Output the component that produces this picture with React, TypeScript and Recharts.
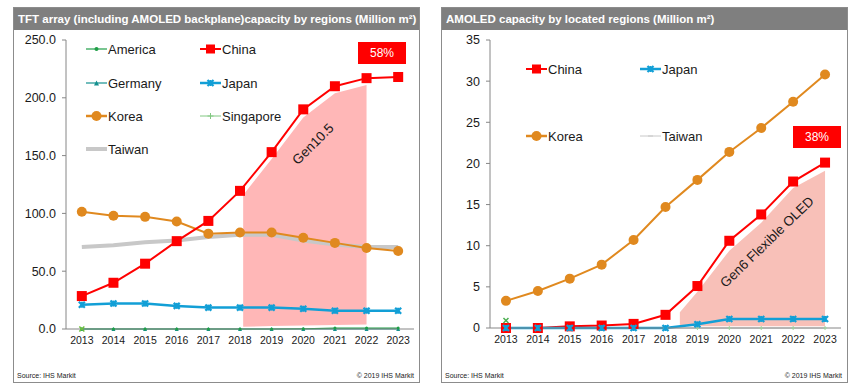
import React from 'react'
import { ComposedChart, Line, Area, XAxis, YAxis } from 'recharts'

const years = [2013, 2014, 2015, 2016, 2017, 2018, 2019, 2020, 2021, 2022, 2023]
const boundaryTicks = [2012.5, 2013.5, 2014.5, 2015.5, 2016.5, 2017.5, 2018.5, 2019.5, 2020.5, 2021.5, 2022.5, 2023.5]

// TFT array (incl. AMOLED backplane) capacity, Million m²
const tftAmerica = [0, 0, 0, 0, 0, 0, 0, 0.2, 0.8, 0.8, 0.8]
const tftChina = [28.5, 40, 56.5, 76, 93.5, 119.5, 153, 190, 210, 217, 218]
const tftGermany = [0, 0, 0, 0, 0, 0, 0, 0, 0, 0, 0]
const tftJapan = [21, 22, 22, 20, 18.5, 18.5, 18.5, 17.5, 15.8, 15.8, 15.8]
const tftKorea = [101.5, 98, 97, 93, 82.5, 83.5, 83.5, 79, 74.5, 70, 67.5]
const tftSingapore = [0, null, null, null, null, null, null, null, null, null, null]
const tftTaiwan = [71, 72.5, 75, 76.5, 79.5, 81.5, 81.5, 76.5, 73, 71, 71]
const tftTicks = [0, 50, 100, 150, 200, 250]

// Gen10.5 shaded band
const gen105Years = [2018.1, 2019, 2020, 2021, 2022]
const gen105Low = [2, 2.5, 3, 3.5, 4]
const gen105High = [116, 147, 183, 204, 211]

// AMOLED capacity by located regions, Million m²
const oledChina = [0, 0, 0.2, 0.3, 0.5, 1.6, 5.1, 10.6, 13.8, 17.8, 20.1]
const oledJapan = [0, 0, 0, 0, 0, 0, 0.45, 1.1, 1.1, 1.1, 1.1]
const oledKorea = [3.3, 4.5, 6.0, 7.7, 10.7, 14.7, 18.0, 21.4, 24.3, 27.5, 30.8]
const oledTaiwan = [0, 0, 0, 0, 0, 0, 0, 0, 0, 0, 0]
const oledOther = [0.9, null, null, null, null, null, null, null, null, null, null]
const oledTicks = [0, 5, 10, 15, 20, 25, 30, 35]

// Gen6 flexible OLED shaded band
const gen6Years = [2018.45, 2019, 2020, 2021, 2022, 2023]
const gen6Low = [0.2, 0.2, 0.2, 0.2, 0.2, 0.2]
const gen6High = [1.9, 4.4, 9.4, 12.8, 17, 19.1]

const RED = '#ff0000'
const ORANGE = '#e0891f'
const BLUE = '#129fd6'
const GRAY = '#c8c8c8'
const GREEN = '#1f9e47'
const TEAL = '#14908f'
const LIGHTGREEN = '#82c882'
const AXIS = '#868686'
const TEXT = '#1a1a1a'
const FONT = 'Arial, "Liberation Sans", sans-serif'

const tftRows = years.map((year, i) => ({
  year,
  america: tftAmerica[i],
  china: tftChina[i],
  germany: tftGermany[i],
  japan: tftJapan[i],
  korea: tftKorea[i],
  singapore: tftSingapore[i],
  taiwan: tftTaiwan[i],
}))

const oledRows = years.map((year, i) => ({
  year,
  china: oledChina[i],
  japan: oledJapan[i],
  korea: oledKorea[i],
  taiwan: oledTaiwan[i],
  other: oledOther[i],
}))

const gen105Rows = gen105Years.map((year, i) => ({ year, band: [gen105Low[i], gen105High[i]] }))
const gen6Rows = gen6Years.map((year, i) => ({ year, band: [gen6Low[i], gen6High[i]] }))

type Kind = 'square' | 'circle' | 'star' | 'triangle' | 'dot' | 'plus' | 'cross' | 'dash'

function Marker({ kind, x, y, color, size }: { kind: Kind; x: number; y: number; color: string; size: number }) {
  const h = size / 2
  switch (kind) {
    case 'square':
      return <rect x={x - h} y={y - h} width={size} height={size} fill={color} />
    case 'circle':
      return <circle cx={x} cy={y} r={h} fill={color} />
    case 'star':
      return (
        <g stroke={color} strokeWidth={2.2}>
          <line x1={x - h} y1={y - h} x2={x + h} y2={y + h} />
          <line x1={x - h} y1={y + h} x2={x + h} y2={y - h} />
          <line x1={x} y1={y - h} x2={x} y2={y + h} />
        </g>
      )
    case 'triangle':
      return <path d={`M${x},${y - h} L${x + h},${y + h} L${x - h},${y + h} Z`} fill={color} />
    case 'dot':
      return <circle cx={x} cy={y} r={h} fill={color} />
    case 'plus':
      return (
        <g stroke={color} strokeWidth={1}>
          <line x1={x - h} y1={y} x2={x + h} y2={y} />
          <line x1={x} y1={y - h} x2={x} y2={y + h} />
        </g>
      )
    case 'cross':
      return (
        <g stroke={color} strokeWidth={1.5}>
          <line x1={x - h} y1={y - h} x2={x + h} y2={y + h} />
          <line x1={x - h} y1={y + h} x2={x + h} y2={y - h} />
        </g>
      )
    case 'dash':
      return <line x1={x - h} y1={y} x2={x + h} y2={y} stroke={color} strokeWidth={1} />
  }
  return null
}

const makeDot = (kind: Kind, color: string, size: number) => (p: any) => {
  const { cx, cy, index, value } = p
  if (cx == null || cy == null || value == null || Number.isNaN(cy)) return <g key={`e-${index}`} />
  return (
    <g key={`m-${index}`}>
      <Marker kind={kind} x={cx} y={cy} color={color} size={size} />
    </g>
  )
}

interface LegendEntry {
  name: string
  color: string
  width: number
  kind: Kind | null
  size: number
  x: number
  y: number
}

function LegendItem({ e }: { e: LegendEntry }) {
  return (
    <div style={{ position: 'absolute', left: e.x, top: e.y - 9, height: 18, display: 'flex', alignItems: 'center', whiteSpace: 'nowrap' }}>
      <svg width={21} height={14} style={{ display: 'block' }}>
        <line x1={0} y1={7} x2={21} y2={7} stroke={e.color} strokeWidth={e.width} />
        {e.kind && <Marker kind={e.kind} x={10.5} y={7} color={e.color} size={e.size} />}
      </svg>
      <span style={{ fontSize: 13, color: TEXT, fontFamily: FONT, marginLeft: 1 }}>{e.name}</span>
    </div>
  )
}

function Panel({ left, title, children }: { left: number; title: string; children: React.ReactNode }) {
  return (
    <div
      style={{
        position: 'absolute',
        left,
        top: 7,
        width: 407,
        height: 376,
        boxSizing: 'border-box',
        border: '1.5px solid #8c8c8c',
        background: '#fff',
        fontFamily: FONT,
      }}
    >
      <div
        style={{
          height: 22,
          background: '#7f7f7f',
          color: '#fff',
          fontWeight: 'bold',
          fontSize: 11.5,
          lineHeight: '22px',
          paddingLeft: 4,
          whiteSpace: 'nowrap',
        }}
      >
        {title}
      </div>
      {children}
      <div style={{ position: 'absolute', left: 3, top: 364, fontSize: 7, color: '#222' }}>Source: IHS Markit</div>
      <div style={{ position: 'absolute', right: 5, top: 364, fontSize: 7, color: '#222' }}>© 2019 IHS Markit</div>
    </div>
  )
}

function Badge({ text, x, y }: { text: string; x: number; y: number }) {
  return (
    <div
      style={{
        position: 'absolute',
        left: x,
        top: y,
        width: 48,
        height: 22,
        background: RED,
        color: '#fff',
        fontSize: 12,
        lineHeight: '22px',
        textAlign: 'center',
      }}
    >
      {text}
    </div>
  )
}

function Rotated({ text, x, y, angle }: { text: string; x: number; y: number; angle: number }) {
  return (
    <div
      style={{
        position: 'absolute',
        left: x,
        top: y,
        transform: `translate(-50%, -50%) rotate(${angle}deg)`,
        fontSize: 13.5,
        color: TEXT,
        whiteSpace: 'nowrap',
      }}
    >
      {text}
    </div>
  )
}

const axisTick = { fontSize: 10.5, fill: TEXT, fontFamily: FONT }
const yTick = { fontSize: 12.5, fill: TEXT, fontFamily: FONT }

function TftChart() {
  const legend: LegendEntry[] = [
    { name: 'America', color: GREEN, width: 1.2, kind: 'dot', size: 4, x: 72, y: 41 },
    { name: 'China', color: RED, width: 2, kind: 'square', size: 9, x: 186, y: 41 },
    { name: 'Germany', color: TEAL, width: 1.2, kind: 'triangle', size: 5, x: 72, y: 75 },
    { name: 'Japan', color: BLUE, width: 2.5, kind: 'star', size: 6, x: 186, y: 75 },
    { name: 'Korea', color: ORANGE, width: 2.5, kind: 'circle', size: 10, x: 72, y: 108 },
    { name: 'Singapore', color: LIGHTGREEN, width: 1, kind: 'plus', size: 6, x: 186, y: 108 },
    { name: 'Taiwan', color: GRAY, width: 4, kind: null, size: 0, x: 72, y: 141 },
  ]
  return (
    <Panel left={13} title="TFT array (including AMOLED backplane)capacity by regions (Million m²)">
      <div style={{ position: 'absolute', left: 0, top: 22 }}>
        <ComposedChart width={404} height={340} data={tftRows} margin={{ top: 10, right: 4, bottom: 10, left: 0 }}>
          <XAxis
            xAxisId="marks"
            type="number"
            dataKey="year"
            domain={[2012.5, 2023.5]}
            allowDataOverflow
            ticks={boundaryTicks}
            interval={0}
            tick={false}
            tickSize={5}
            tickLine={{ stroke: AXIS }}
            axisLine={{ stroke: AXIS }}
            height={1}
          />
          <XAxis
            xAxisId="x"
            type="number"
            dataKey="year"
            domain={[2012.5, 2023.5]}
            allowDataOverflow
            ticks={years}
            interval={0}
            tick={axisTick}
            tickLine={false}
            axisLine={false}
            tickSize={4}
            tickMargin={3}
            height={30}
          />
          <YAxis
            yAxisId="y"
            domain={[0, 250]}
            ticks={tftTicks}
            interval={0}
            width={52}
            tick={yTick}
            tickFormatter={(v: number) => v.toFixed(1)}
            tickSize={4}
            tickMargin={6}
            tickLine={{ stroke: AXIS }}
            axisLine={{ stroke: AXIS }}
          />
          <Area
            xAxisId="x"
            yAxisId="y"
            data={gen105Rows}
            dataKey="band"
            type="linear"
            fill="#ffb7b7"
            fillOpacity={1}
            stroke="none"
            isAnimationActive={false}
            activeDot={false}
          />
          <Line xAxisId="x" yAxisId="y" dataKey="taiwan" stroke={GRAY} strokeWidth={4} dot={false} isAnimationActive={false} />
          <Line xAxisId="x" yAxisId="y" dataKey="korea" stroke={ORANGE} strokeWidth={2} dot={makeDot('circle', ORANGE, 10)} isAnimationActive={false} />
          <Line xAxisId="x" yAxisId="y" dataKey="japan" stroke={BLUE} strokeWidth={2.5} dot={makeDot('star', BLUE, 6)} isAnimationActive={false} />
          <Line xAxisId="x" yAxisId="y" dataKey="germany" stroke={TEAL} strokeWidth={1} dot={makeDot('triangle', TEAL, 4)} isAnimationActive={false} />
          <Line xAxisId="x" yAxisId="y" dataKey="america" stroke={GREEN} strokeWidth={1.2} dot={makeDot('dot', GREEN, 3)} isAnimationActive={false} />
          <Line xAxisId="x" yAxisId="y" dataKey="singapore" stroke={LIGHTGREEN} strokeWidth={1} dot={makeDot('cross', '#6cbf3c', 5)} isAnimationActive={false} />
          <Line xAxisId="x" yAxisId="y" dataKey="china" stroke={RED} strokeWidth={2} dot={makeDot('square', RED, 10)} isAnimationActive={false} />
        </ComposedChart>
      </div>
      {legend.map((e) => (
        <LegendItem key={e.name} e={e} />
      ))}
      <Badge text="58%" x={344} y={34} />
      <Rotated text="Gen10.5" x={299} y={136} angle={-45} />
    </Panel>
  )
}

function OledChart() {
  const legend: LegendEntry[] = [
    { name: 'China', color: RED, width: 2, kind: 'square', size: 9, x: 84, y: 61 },
    { name: 'Japan', color: BLUE, width: 2.5, kind: 'star', size: 6, x: 198, y: 61 },
    { name: 'Korea', color: ORANGE, width: 2.5, kind: 'circle', size: 10, x: 84, y: 128 },
    { name: 'Taiwan', color: GRAY, width: 1, kind: 'dash', size: 5, x: 198, y: 128 },
  ]
  return (
    <Panel left={441} title="AMOLED capacity by located regions (Million m²)">
      <div style={{ position: 'absolute', left: 0, top: 22 }}>
        <ComposedChart width={404} height={340} data={oledRows} margin={{ top: 10, right: 5, bottom: 11, left: 0 }}>
          <XAxis
            xAxisId="marks"
            type="number"
            dataKey="year"
            domain={[2012.5, 2023.5]}
            allowDataOverflow
            ticks={boundaryTicks}
            interval={0}
            tick={false}
            tickSize={5}
            tickLine={{ stroke: AXIS }}
            axisLine={{ stroke: AXIS }}
            height={1}
          />
          <XAxis
            xAxisId="x"
            type="number"
            dataKey="year"
            domain={[2012.5, 2023.5]}
            allowDataOverflow
            ticks={years}
            interval={0}
            tick={axisTick}
            tickLine={false}
            axisLine={false}
            tickSize={4}
            tickMargin={3}
            height={30}
          />
          <YAxis
            yAxisId="y"
            domain={[0, 35]}
            ticks={oledTicks}
            interval={0}
            width={48}
            tick={yTick}
            tickSize={4}
            tickMargin={6}
            tickLine={{ stroke: AXIS }}
            axisLine={{ stroke: AXIS }}
          />
          <Area
            xAxisId="x"
            yAxisId="y"
            data={gen6Rows}
            dataKey="band"
            type="linear"
            fill="#f8c0b8"
            fillOpacity={1}
            stroke="none"
            isAnimationActive={false}
            activeDot={false}
          />
          <Line xAxisId="x" yAxisId="y" dataKey="taiwan" stroke={GRAY} strokeWidth={1} dot={makeDot('plus', '#9fd39f', 4)} isAnimationActive={false} />
          <Line xAxisId="x" yAxisId="y" dataKey="korea" stroke={ORANGE} strokeWidth={2} dot={makeDot('circle', ORANGE, 10)} isAnimationActive={false} />
          <Line xAxisId="x" yAxisId="y" dataKey="china" stroke={RED} strokeWidth={2} dot={makeDot('square', RED, 10)} isAnimationActive={false} />
          <Line xAxisId="x" yAxisId="y" dataKey="japan" stroke={BLUE} strokeWidth={2.5} dot={makeDot('star', BLUE, 6)} isAnimationActive={false} />
          <Line xAxisId="x" yAxisId="y" dataKey="other" stroke={GREEN} strokeWidth={1} dot={makeDot('cross', '#4caf50', 5)} isAnimationActive={false} />
        </ComposedChart>
      </div>
      {legend.map((e) => (
        <LegendItem key={e.name} e={e} />
      ))}
      <Badge text="38%" x={351} y={118} />
      <Rotated text="Gen6 Flexible OLED" x={325} y={234} angle={-44} />
    </Panel>
  )
}

export default function App() {
  return (
    <div style={{ position: 'absolute', left: 0, top: 0, width: 861, height: 391, background: '#fff' }}>
      <TftChart />
      <OledChart />
    </div>
  )
}
